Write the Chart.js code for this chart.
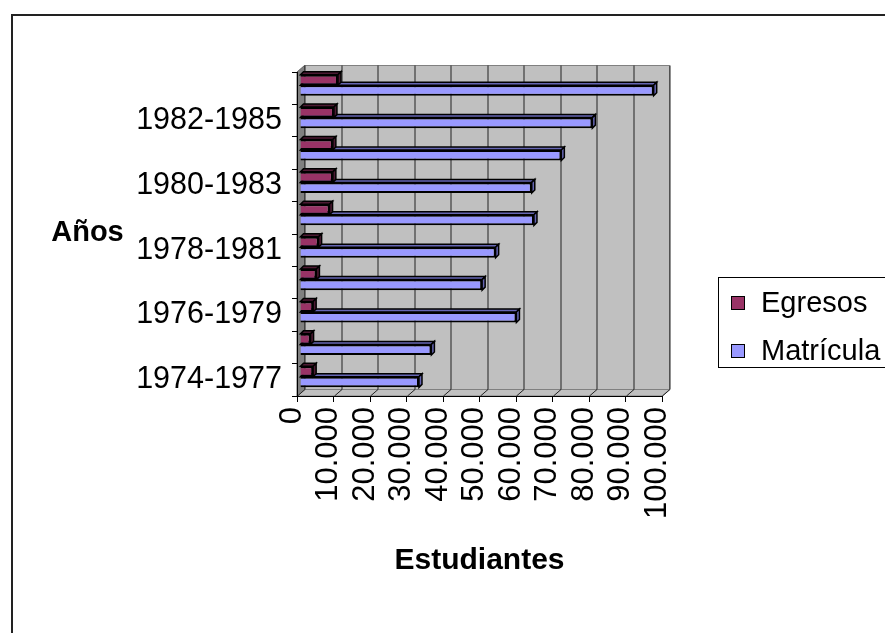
<!DOCTYPE html>
<html>
<head>
<meta charset="utf-8">
<script src="https://cdn.jsdelivr.net/npm/chart.js@4"></script>
<style>
  html, body { margin: 0; padding: 0; background: #fff; }
  #wrap { position: relative; width: 885px; height: 633px; }
</style>
</head>
<body>
<div id="wrap"><canvas id="chart" width="885" height="633"></canvas></div>
<script>
// data
const periodos = ['1974-1977', '1975-1978', '1976-1979', '1977-1980', '1978-1981',
                  '1979-1982', '1980-1983', '1981-1984', '1982-1985', '1983-1986'];
const egresos = [3600, 2900, 3600, 4500, 5100, 8100, 9000, 9000, 9300, 10400];
const matricula = [32600, 36000, 59300, 49900, 53600, 64100, 63500, 71600, 80100, 96900];
const xTicks = [0, 10000, 20000, 30000, 40000, 50000, 60000, 70000, 80000, 90000, 100000];

const FONT = 'Liberation Sans, Arial, sans-serif';
const DX = 7.5, DY = -6.5;   // depth of the back wall
const BX = 3, BY = -3;       // bars sit half way in
const BD = 3;                // bar depth

function miles(v) {
    return String(v).replace(/\B(?=(\d{3})+(?!\d))/g, '.');
}

function poly(ctx, pts, fill, stroke) {
    ctx.beginPath();
    ctx.moveTo(pts[0][0], pts[0][1]);
    for (let i = 1; i < pts.length; i++) ctx.lineTo(pts[i][0], pts[i][1]);
    ctx.closePath();
    if (fill) { ctx.fillStyle = fill; ctx.fill(); }
    if (stroke) { ctx.strokeStyle = stroke; ctx.stroke(); }
}

// grey walls, floor and grid in the back
const walls = {
    id: 'walls',
    beforeDraw(chart) {
        const { ctx, chartArea: a } = chart;
        const x = chart.scales.x;
        ctx.save();
        ctx.lineWidth = 2;
        ctx.strokeStyle = '#222';
        ctx.strokeRect(12, 15, 1000, 1000);

        ctx.lineWidth = 1;
        poly(ctx, [[a.left + DX, a.top + DY], [a.right + DX, a.top + DY],
                   [a.right + DX, a.bottom + DY], [a.left + DX, a.bottom + DY]], '#c0c0c0', '#808080');
        poly(ctx, [[a.left, a.top], [a.left + DX, a.top + DY],
                   [a.left + DX, a.bottom + DY], [a.left, a.bottom]], '#808080', '#606060');
        poly(ctx, [[a.left, a.bottom], [a.left + DX, a.bottom + DY],
                   [a.right + DX, a.bottom + DY], [a.right, a.bottom]], '#c0c0c0', '#808080');

        ctx.strokeStyle = '#222';
        x.ticks.forEach(t => {
            const px = Math.round(x.getPixelForValue(t.value)) + 0.5;
            ctx.beginPath();
            ctx.moveTo(px + DX, a.top + DY);
            ctx.lineTo(px + DX, a.bottom + DY);
            ctx.moveTo(px, a.bottom);
            ctx.lineTo(px + DX, a.bottom + DY);
            ctx.stroke();
        });
        ctx.restore();
    }
};

// shift bars and add their top and side faces
const bars3d = {
    id: 'bars3d',
    beforeDatasetsDraw(chart) {
        const ctx = chart.ctx;
        ctx.save();
        ctx.translate(BX, BY);
        ctx.lineWidth = 1.5;
        const sides = ['#4d1a33', '#6666b3'];
        for (let d = chart.data.datasets.length - 1; d >= 0; d--) {
            chart.getDatasetMeta(d).data.forEach(bar => {
                const p = bar.getProps(['x', 'y', 'base', 'height'], true);
                const t = p.y - p.height / 2, b = p.y + p.height / 2;
                poly(ctx, [[p.base, t], [p.base + BD, t - BD], [p.x + BD, t - BD], [p.x, t]], sides[d], '#000');
                poly(ctx, [[p.x, t], [p.x + BD, t - BD], [p.x + BD, b - BD], [p.x, b]], sides[d], '#000');
            });
        }
    },
    afterDatasetsDraw(chart) {
        chart.ctx.restore();
    }
};

// "Años" label and the boxed legend
const extras = {
    id: 'extras',
    afterDraw(chart) {
        const ctx = chart.ctx;
        ctx.save();
        ctx.fillStyle = '#000';
        ctx.font = 'bold 29px ' + FONT;
        ctx.textAlign = 'center';
        ctx.textBaseline = 'alphabetic';
        ctx.fillText('Años', 87.5, 241);

        ctx.lineWidth = 1;
        ctx.strokeStyle = '#000';
        ctx.strokeRect(718.5, 277.5, 200, 90);
        ctx.font = '29px ' + FONT;
        ctx.textAlign = 'left';
        ctx.textBaseline = 'middle';
        chart.data.datasets.forEach((ds, i) => {
            const cy = 303 + i * 48;
            ctx.fillStyle = ds.backgroundColor;
            ctx.fillRect(731, cy - 7, 14, 14);
            ctx.strokeRect(731.5, cy - 6.5, 13, 13);
            ctx.fillStyle = '#000';
            ctx.fillText(ds.label, 761, cy + 1);
        });
        ctx.restore();
    }
};

new Chart(document.getElementById('chart'), {
    type: 'bar',
    data: {
        labels: periodos,
        datasets: [
            { label: 'Egresos', data: egresos, backgroundColor: '#993366', borderColor: '#000', borderWidth: 2 },
            { label: 'Matrícula', data: matricula, backgroundColor: '#9999ff', borderColor: '#000', borderWidth: 2 }
        ]
    },
    options: {
        indexAxis: 'y',
        responsive: false,
        animation: false,
        layout: { padding: { top: 72, right: 223, left: 0, bottom: 0 } },
        datasets: { bar: { barPercentage: 1, categoryPercentage: 0.65 } },
        plugins: { legend: { display: false }, tooltip: { enabled: false } },
        scales: {
            x: {
                min: 0,
                max: 100000,
                afterBuildTicks: s => { s.ticks = xTicks.map(v => ({ value: v })); },
                afterFit: s => { s.height = 237; },
                grid: { drawOnChartArea: false, tickLength: 6, color: '#000' },
                border: { display: true, color: '#000', width: 1 },
                ticks: {
                    color: '#000',
                    font: { family: FONT, size: 31 },
                    minRotation: 90,
                    maxRotation: 90,
                    padding: 5,
                    labelOffset: -5,
                    autoSkip: false,
                    callback: v => miles(v)
                },
                title: {
                    display: true,
                    text: 'Estudiantes',
                    color: '#000',
                    font: { family: FONT, size: 30, weight: 'bold' },
                    padding: { top: 0, bottom: 54 }
                }
            },
            y: {
                reverse: true,
                afterFit: s => { s.width = 297; },
                grid: { drawOnChartArea: false, tickLength: 5, color: '#000' },
                border: { display: true, color: '#000', width: 1 },
                ticks: {
                    color: '#000',
                    font: { family: FONT, size: 30.5 },
                    padding: 10,
                    autoSkip: false,
                    callback: (v, i) => (i % 2 === 0 ? periodos[i] : '')
                }
            }
        }
    },
    plugins: [walls, bars3d, extras]
});
</script>
</body>
</html>
